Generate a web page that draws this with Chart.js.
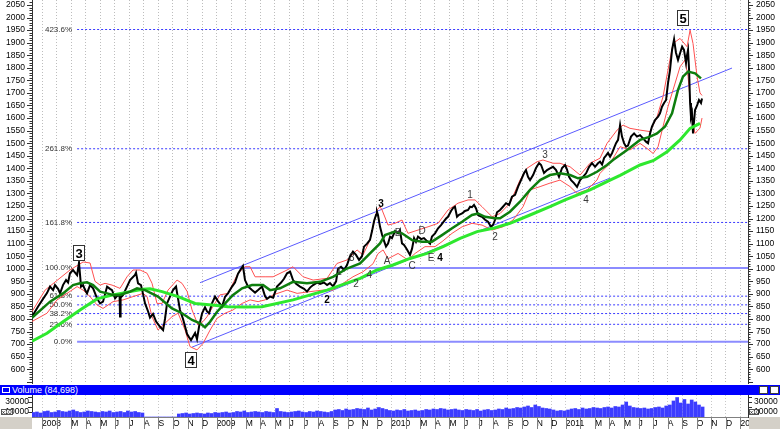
<!DOCTYPE html>
<html><head><meta charset="utf-8">
<script src="https://cdn.jsdelivr.net/npm/chart.js@4.4.1/dist/chart.umd.min.js"></script>
<style>
body{margin:0;background:#fff;}
#wrap{position:relative;width:780px;height:429px;overflow:hidden;background:#fff;font-family:"Liberation Sans",Arial,sans-serif;}
#main{position:absolute;left:0;top:0;}
#hdr{position:absolute;left:0;top:385px;width:780px;height:10px;background:#0000ff;color:#fff;font-size:9px;line-height:10px;}
#hdr .ic{position:absolute;left:2px;top:2px;width:6px;height:4px;border:1px solid #fff;}
#hdr .t{position:absolute;left:12px;top:0;white-space:nowrap;}
#hdr .b{position:absolute;top:1px;width:7px;height:6px;background:#fff;border:1px solid #404040;}
#vol{position:absolute;left:0;top:395px;}
</style></head><body>
<div id="wrap">
<canvas id="main" width="780" height="384"></canvas>
<div id="hdr"><span class="ic"></span><span class="t">Volume (84,698)</span><span class="b" style="left:759px"></span><span class="b" style="left:770px"></span></div>
<canvas id="vol" width="780" height="34"></canvas>
</div>
<script>
// ---------------- DATA (x = months since Jan 2008, y = price) ----------------
const priceData = [[-0.69,809],[-0.27,850],[0.07,880],[0.34,903],[0.55,929],[0.76,915],[0.89,935],[1.10,920],[1.24,902],[1.44,935],
[1.65,955],[1.79,945],[1.92,982],[2.13,995],[2.27,985],[2.41,975],[2.54,1024],[2.68,929],[2.82,935],[2.96,915],
[3.09,902],[3.30,935],[3.51,922],[3.78,882],[3.99,862],[4.19,869],[4.47,929],[4.67,920],[4.81,915],[5.02,882],
[5.22,896],[5.33,890],[5.36,810],[5.40,885],[5.57,896],[5.84,929],[6.05,955],[6.39,975],[6.46,984],[6.60,942],
[6.80,935],[6.94,900],[7.08,862],[7.29,830],[7.42,805],[7.63,820],[7.84,790],[8.11,769],[8.32,756],[8.45,800],
[8.59,862],[8.80,890],[9.00,915],[9.21,929],[9.35,880],[9.48,836],[9.69,800],[9.83,770],[9.97,740],[10.10,728],
[10.24,716],[10.38,730],[10.52,744],[10.65,720],[10.79,769],[11.00,823],[11.20,847],[11.34,830],[11.48,823],[11.68,862],
[11.89,889],[12.10,870],[12.37,849],[12.58,889],[12.78,902],[13.06,929],[13.26,945],[13.47,980],[13.68,1000],[13.81,1011],
[13.95,955],[14.16,929],[14.43,915],[14.64,905],[14.85,915],[15.12,929],[15.33,890],[15.46,880],[15.67,889],[15.88,885],
[16.15,929],[16.43,945],[16.63,960],[16.84,982],[17.05,988],[17.25,955],[17.46,940],[17.73,929],[18.01,920],[18.21,909],
[18.42,925],[18.63,935],[18.90,945],[19.11,940],[19.38,945],[19.59,935],[19.79,943],[20.00,930],[20.21,950],[20.34,1000],
[20.55,1008],[20.76,995],[20.96,1015],[21.17,1050],[21.37,1068],[21.58,1055],[21.79,1035],[21.99,1050],[22.13,1088],[22.34,1100],
[22.54,1115],[22.68,1150],[22.82,1190],[22.96,1215],[23.02,1227],[23.09,1214],[23.23,1167],[23.37,1135],[23.51,1110],[23.64,1088],
[23.78,1100],[23.92,1128],[24.05,1122],[24.26,1150],[24.47,1141],[24.60,1154],[24.74,1101],[24.88,1095],[25.02,1083],[25.15,1070],
[25.29,1055],[25.43,1080],[25.57,1122],[25.70,1107],[25.84,1128],[26.05,1118],[26.25,1122],[26.46,1110],[26.67,1100],[26.80,1128],
[27.01,1141],[27.22,1161],[27.42,1174],[27.63,1190],[27.77,1200],[27.90,1207],[28.11,1230],[28.25,1242],[28.38,1247],[28.52,1207],
[28.66,1215],[28.87,1220],[29.07,1230],[29.28,1234],[29.42,1247],[29.55,1245],[29.69,1254],[29.83,1240],[29.97,1214],[30.10,1210],
[30.24,1207],[30.45,1195],[30.65,1187],[30.86,1167],[31.00,1175],[31.13,1194],[31.27,1225],[31.48,1234],[31.68,1247],[31.89,1261],
[32.10,1254],[32.30,1287],[32.51,1294],[32.72,1327],[32.92,1353],[33.13,1381],[33.26,1393],[33.40,1366],[33.54,1353],[33.75,1373],
[33.95,1401],[34.16,1421],[34.30,1413],[34.50,1381],[34.71,1393],[34.91,1400],[35.12,1406],[35.33,1393],[35.53,1366],[35.74,1401],
[35.95,1413],[36.08,1395],[36.22,1366],[36.36,1353],[36.56,1341],[36.77,1326],[36.98,1353],[37.18,1366],[37.39,1380],[37.59,1405],
[37.80,1421],[38.01,1406],[38.21,1420],[38.35,1426],[38.49,1415],[38.63,1441],[38.76,1450],[38.90,1461],[39.04,1446],[39.18,1461],
[39.31,1480],[39.45,1500],[39.59,1513],[39.73,1572],[39.86,1526],[40.00,1500],[40.14,1486],[40.27,1490],[40.48,1526],[40.69,1539],
[40.89,1526],[41.10,1532],[41.31,1519],[41.51,1506],[41.65,1500],[41.79,1539],[41.92,1566],[42.13,1592],[42.34,1605],[42.47,1619],
[42.61,1645],[42.75,1660],[42.89,1672],[43.02,1738],[43.16,1791],[43.30,1871],[43.44,1913],[43.57,1860],[43.71,1831],[43.85,1858],
[43.99,1884],[44.12,1871],[44.26,1819],[44.33,1850],[44.40,1871],[44.47,1791],[44.54,1660],[44.60,1604],[44.67,1620],[44.74,1539],
[44.88,1632],[45.02,1650],[45.15,1672],[45.29,1660],[45.36,1678]];

const maShort = [[-0.69,805],[0.55,869],[1.44,902],[2.13,935],[2.61,942],[3.09,946],[3.51,935],[3.99,909],[4.47,902],[4.88,896],
[5.36,896],[6.05,909],[6.53,922],[7.08,915],[7.97,889],[8.93,842],[9.62,823],[10.31,796],[10.86,783],[11.20,767],
[11.55,789],[12.03,829],[12.58,862],[13.13,896],[13.75,922],[14.43,935],[15.19,935],[15.67,915],[16.36,922],[17.25,948],
[18.21,942],[19.11,948],[20.00,968],[20.96,1001],[21.86,1021],[22.54,1061],[23.23,1101],[23.57,1134],[24.26,1148],[24.74,1141],
[25.43,1114],[26.12,1108],[26.80,1108],[27.49,1134],[28.18,1161],[28.87,1187],[29.55,1214],[29.97,1220],[30.45,1207],[31.13,1201],
[31.48,1201],[32.16,1227],[32.85,1267],[33.54,1314],[34.23,1353],[34.91,1373],[35.60,1380],[36.29,1373],[36.84,1360],[37.46,1366],
[38.14,1386],[38.83,1413],[39.24,1433],[40.21,1473],[41.10,1513],[41.79,1526],[42.27,1539],[42.82,1566],[43.30,1619],[43.71,1712],
[44.05,1765],[44.40,1785],[44.88,1778],[45.29,1758]];

const maLong = [[-0.69,712],[0.34,743],[1.44,789],[2.61,836],[3.78,880],[4.88,896],[6.05,909],[6.94,918],[7.42,920],[8.25,909],
[9.35,889],[10.52,862],[11.68,856],[12.78,849],[13.95,848],[15.12,849],[17.25,876],[19.59,915],[21.86,962],[23.02,995],
[24.12,1015],[25.29,1041],[26.46,1061],[27.56,1088],[28.73,1121],[29.90,1148],[31.00,1161],[32.16,1181],[33.54,1214],[34.91,1247],
[35.95,1274],[37.66,1314],[39.04,1353],[39.73,1372],[41.10,1413],[42.00,1430],[42.96,1466],[43.85,1513],[44.54,1559],[45.22,1579]];

const bandUpper = [[-0.69,829],[0.21,915],[0.89,947],[1.92,995],[2.82,1027],[3.30,1023],[3.64,950],[3.99,935],[4.33,942],[4.81,935],
[5.36,922],[5.84,968],[6.25,995],[6.74,995],[7.22,982],[7.56,942],[7.90,862],[8.25,862],[8.66,915],[9.28,955],
[9.62,942],[9.97,910],[10.31,836],[10.72,776],[11.07,790],[11.34,809],[11.75,850],[12.23,896],[12.78,902],[13.47,982],
[13.95,1008],[14.30,1008],[14.64,968],[15.33,968],[15.88,968],[16.84,995],[17.25,1008],[17.94,968],[18.63,955],[19.59,962],
[20.27,1021],[20.96,1035],[21.65,1075],[22.06,1055],[22.54,1114],[23.02,1234],[23.23,1247],[23.37,1234],[23.78,1174],[24.26,1181],
[24.74,1194],[25.15,1141],[25.84,1154],[26.53,1167],[27.22,1181],[27.90,1234],[28.59,1261],[29.28,1274],[29.76,1274],[30.24,1247],
[30.93,1207],[31.48,1220],[32.16,1261],[32.85,1353],[33.33,1400],[34.02,1426],[34.43,1433],[35.12,1420],[35.60,1420],[36.29,1406],
[36.98,1373],[37.66,1420],[38.35,1440],[38.83,1499],[39.52,1552],[39.93,1572],[40.41,1559],[41.10,1552],[41.79,1546],[42.27,1605],
[42.68,1685],[43.02,1791],[43.37,1897],[43.85,1917],[44.33,1884],[44.54,1950],[44.74,1897],[45.02,1765],[45.22,1700],[45.36,1690]];

const bandLower = [[-0.69,790],[0.34,823],[1.03,876],[1.72,902],[2.41,929],[2.82,915],[3.30,889],[3.78,856],[4.19,842],[4.88,869],
[5.57,876],[6.25,889],[6.94,902],[7.22,889],[7.56,809],[7.97,756],[8.45,783],[8.93,809],[9.35,823],[9.83,756],
[10.17,690],[10.65,677],[11.07,703],[11.55,756],[12.03,803],[12.58,823],[13.13,836],[13.75,862],[14.30,876],[14.85,869],
[15.33,876],[15.88,896],[16.84,915],[17.53,902],[18.42,909],[19.31,915],[20.00,915],[20.69,942],[21.37,968],[22.06,988],
[22.75,1020],[23.09,1060],[23.44,1075],[23.78,1040],[24.47,1061],[25.15,1035],[25.64,1061],[26.32,1088],[27.01,1088],[27.49,1108],
[28.18,1141],[28.87,1167],[29.55,1181],[30.24,1174],[30.93,1154],[31.68,1167],[32.37,1194],[33.06,1247],[33.54,1314],[34.23,1327],
[34.91,1341],[35.60,1353],[36.29,1327],[36.77,1300],[37.46,1314],[38.14,1353],[38.35,1380],[39.04,1420],[39.73,1486],[40.41,1473],
[41.10,1499],[41.58,1479],[42.00,1459],[42.34,1486],[42.68,1566],[43.02,1645],[43.37,1712],[43.85,1804],[44.19,1831],[44.40,1765],
[44.67,1592],[44.88,1539],[45.22,1560],[45.36,1600]];

const fibPercents = [0, 23.6, 38.2, 50, 61.8, 100, 161.8, 261.8, 423.6];
const fibLow = 709.6, fibHigh = 1003, fibStart = 2.41;
const channelUpper = [[10.86, 944.5], [47.42, 1799]];
const channelLower = [[10.31, 688], [39.04, 1361]];

const priceTicks = [600,650,700,750,800,850,900,950,1000,1050,1100,1150,1200,1250,1300,1350,1400,1450,1500,1550,1600,1650,1700,1750,1800,1850,1900,1950,2000,2050];
const monthLetters = ['J','F','M','A','M','J','J','A','S','O','N','D'];
const firstYear = 2008;

const waveLabels = [[23.30,1258,'3',true],[19.59,876,'2',true],[23.71,1031,'A',false],[24.47,1142,'B',false],[25.43,1011,'C',false],
[26.12,1150,'D',false],[26.74,1043,'E',false],[27.35,1043,'4',true],[29.42,1293,'1',false],[31.13,1126,'2',false],
[34.57,1453,'3',false],[37.39,1274,'4',false],[20.41,988,'1',false],[21.28,1042,'3',false],[22.49,975,'4',false],[21.58,939,'2',false]];
const boxedLabels = [[2.54,1061,'3'],[10.21,637,'4'],[44.05,2000,'5']];

// weekly volume, in thousands, from volStart every volStep months
const volStart = -0.6, volStep = 0.25;
const volumeK = [9,10,8,11,12,9,10,13,11,10,12,14,11,9,10,12,11,10,9,11,10,12,9,10,11,9,12,10,11,9,8,
0,0,0,0,0,0,0,0,0,
6,7,8,6,7,8,7,6,8,7,9,
8,9,10,8,9,11,10,12,9,10,11,10,9,11,10,9,17,11,10,9,10,11,12,10,9,11,10,12,11,10,9,11,
14,15,13,16,14,15,17,16,15,18,14,16,19,17,15,13,
12,14,13,15,12,13,14,12,13,15,14,16,15,17,16,14,15,16,14,13,15,14,13,15,
12,14,15,13,14,16,15,18,16,17,19,18,20,22,19,24,21,18,17,16,14,12,13,12,
14,16,17,15,18,16,17,19,18,17,19,20,18,21,20,24,
30,22,19,18,
17,18,16,17,19,20,18,22,24,
32,39,28,35,
26,34,30,24,
20];
const volTicks = [10000, 30000];

// ---------------- CHART ----------------
Chart.defaults.font.family = '"Liberation Sans", Arial, sans-serif';
Chart.defaults.font.size = 8.5;
Chart.defaults.color = '#000';
const FONT = '"Liberation Sans", Arial, sans-serif';
const X_MIN = -0.69, X_MAX = 48.52;
const toPts = a => a.map(([x, y]) => ({x, y}));
const monthTicks = s => { s.ticks = []; for (let v = Math.ceil(s.min); v <= Math.floor(s.max); v++) s.ticks.push({value: v}); };
const fibLevel = p => fibLow + (fibHigh - fibLow) * p / 100;
const noPadV = s => { s.width = 32; s.paddingTop = 0; s.paddingBottom = 0; };
const plain = v => String(v);

const line = (data, color, width, order, dash) => ({type:'line', data: toPts(data), borderColor: color, borderWidth: width,
  borderDash: dash || [], pointRadius: 0, tension: 0, fill: false, order, yAxisID: 'yL'});

const datasets = [
  line(maShort, '#0e7e0e', 2.5, 0),
  line(maLong, '#2ee82e', 3, 1),
  line(priceData, '#000000', 2, 2),
  line(bandUpper, '#ff5050', 1, 3),
  line(bandLower, '#ff5050', 1, 3),
  line(channelUpper, '#5a5aff', 1, 4),
  line(channelLower, '#5a5aff', 1, 4),
  ...fibPercents.map(p => {
    const solid = (p === 0 || p === 100);
    return line([[fibStart, fibLevel(p)], [X_MAX, fibLevel(p)]], solid ? '#8c8cff' : '#3a3aff', solid ? 2 : 1, 5, solid ? [] : [2, 2]);
  })
];

const mainDecor = {
  id: 'mainDecor',
  beforeDatasetsDraw(chart) {
    const {ctx, scales: {x, yL}} = chart;
    ctx.save();
    ctx.font = '8px ' + FONT; ctx.fillStyle = '#333'; ctx.textAlign = 'right'; ctx.textBaseline = 'middle';
    fibPercents.forEach(p => ctx.fillText(p.toFixed(1) + '%', x.getPixelForValue(fibStart) - 5, yL.getPixelForValue(fibLevel(p))));
    ctx.restore();
  },
  afterDatasetsDraw(chart) {
    const {ctx, scales: {x, yL}} = chart;
    ctx.save();
    ctx.textAlign = 'center'; ctx.textBaseline = 'middle';
    waveLabels.forEach(([m, v, t, b]) => {
      ctx.font = (b ? 'bold 10px ' : '10px ') + FONT;
      ctx.fillStyle = b ? '#000' : '#3a3a3a';
      ctx.fillText(t, x.getPixelForValue(m), yL.getPixelForValue(v));
    });
    boxedLabels.forEach(([m, v, t]) => {
      const px = Math.round(x.getPixelForValue(m)), py = Math.round(yL.getPixelForValue(v));
      ctx.fillStyle = '#fff'; ctx.fillRect(px - 6, py - 8, 12, 16);
      ctx.strokeStyle = '#333'; ctx.lineWidth = 1; ctx.strokeRect(px - 5.5, py - 7.5, 11, 15);
      ctx.fillStyle = '#000'; ctx.font = 'bold 13px ' + FONT; ctx.fillText(t, px, py + 1);
    });
    ctx.restore();
  },
  afterDraw(chart) {
    const {ctx, chartArea: ca, scales: {yL}} = chart;
    ctx.save(); ctx.strokeStyle = '#333'; ctx.lineWidth = 1; ctx.beginPath();
    for (let v = 550; v <= 2060; v += 10) {
      const y = Math.round(yL.getPixelForValue(v)) + 0.5;
      const len = v % 50 === 0 ? 5 : 2.5;
      ctx.moveTo(ca.left - len, y); ctx.lineTo(ca.left, y);
      ctx.moveTo(ca.right, y); ctx.lineTo(ca.right + len, y);
    }
    ctx.stroke(); ctx.restore();
  }
};

const yAxis = (pos, pad) => ({
  type: 'linear', position: pos, min: 545.2, max: 2069.9,
  afterBuildTicks: s => { s.ticks = priceTicks.map(v => ({value: v})); },
  afterFit: noPadV,
  grid: {display: false, drawTicks: false},
  border: {display: true, color: '#333', width: 1},
  ticks: {autoSkip: false, padding: pad, color: '#000', font: {size: 8.5}, callback: plain}
});

new Chart(document.getElementById('main'), {
  type: 'line',
  data: {datasets},
  options: {
    responsive: false, animation: false, events: [],
    layout: {padding: 0},
    plugins: {legend: {display: false}, tooltip: {enabled: false}},
    scales: {
      x: {type: 'linear', min: X_MIN, max: X_MAX, afterBuildTicks: monthTicks,
        afterFit: s => { s.height = 1; s.paddingLeft = 0; s.paddingRight = 0; },
        grid: {display: true, color: '#bdbdbd', lineWidth: 1, drawTicks: false},
        border: {display: false, dash: [1, 2]},
        ticks: {display: false}},
      yL: yAxis('left', 7),
      yR: yAxis('right', 8)
    }
  },
  plugins: [mainDecor]
});

// ---------------- VOLUME ----------------
const volPts = volumeK.map((v, i) => ({x: volStart + i * volStep, y: v * 1000}));
const volDecor = {
  id: 'volDecor',
  afterDraw(chart) {
    const {ctx, chartArea: ca, scales: {x, vL}} = chart;
    const H = chart.height;
    ctx.save();
    ctx.fillStyle = '#d4d0c8';
    ctx.fillRect(0, ca.bottom, ca.left, H - ca.bottom);
    ctx.fillRect(ca.right + 1, ca.bottom, chart.width - ca.right, H - ca.bottom);
    ctx.strokeStyle = '#808080'; ctx.lineWidth = 1; ctx.beginPath();
    ctx.moveTo(ca.left, ca.bottom + 0.5); ctx.lineTo(ca.right, ca.bottom + 0.5);
    x.ticks.forEach(t => { const px = Math.round(x.getPixelForValue(t.value)) + 0.5; ctx.moveTo(px, ca.bottom); ctx.lineTo(px, H); });
    ctx.stroke();
    ctx.strokeStyle = '#333'; ctx.beginPath();
    [10000, 20000, 30000, 40000].forEach(v => {
      const y = Math.round(vL.getPixelForValue(v)) + 0.5;
      ctx.moveTo(ca.left - 4, y); ctx.lineTo(ca.left, y); ctx.moveTo(ca.right, y); ctx.lineTo(ca.right + 4, y);
    });
    ctx.stroke();
    const yb = Math.round(vL.getPixelForValue(10000));
    [[1, 12], [ca.right + 1, 10]].forEach(([bx, bw]) => {
      ctx.fillStyle = '#fff'; ctx.fillRect(bx, yb - 3, bw, 6);
      ctx.strokeStyle = '#555'; ctx.strokeRect(bx + 0.5, yb - 2.5, bw - 1, 5);
      ctx.fillStyle = '#000'; ctx.font = '6px ' + FONT; ctx.textAlign = 'left'; ctx.textBaseline = 'middle';
      ctx.fillText('x10', bx + 1, yb + 0.5);
    });
    ctx.restore();
  }
};
const vAxis = (pos, pad) => ({
  type: 'linear', position: pos, min: 0, max: 44000,
  afterBuildTicks: s => { s.ticks = volTicks.map(v => ({value: v})); },
  afterFit: noPadV,
  grid: {display: false, drawTicks: false},
  border: {display: true, color: '#333', width: 1},
  ticks: {autoSkip: false, padding: pad, color: '#000', font: {size: 8.5}, callback: plain}
});
new Chart(document.getElementById('vol'), {
  type: 'bar',
  data: {datasets: [{data: volPts, backgroundColor: '#3c3cff', borderWidth: 0, barThickness: 3, yAxisID: 'vL'}]},
  options: {
    responsive: false, animation: false, events: [],
    layout: {padding: 0},
    plugins: {legend: {display: false}, tooltip: {enabled: false}},
    scales: {
      x: {type: 'linear', min: X_MIN, max: X_MAX, offset: false, afterBuildTicks: monthTicks,
        afterFit: s => { s.height = 12; s.paddingLeft = 0; s.paddingRight = 0; },
        grid: {display: true, offset: false, color: '#c8c8c8', lineWidth: 1, drawTicks: false},
        border: {display: false, dash: [1, 2]},
        ticks: {autoSkip: false, maxRotation: 0, minRotation: 0, align: 'start', padding: 2, color: '#000', font: {size: 8.5},
          callback: v => { const mi = ((v % 12) + 12) % 12; return mi === 0 ? String(firstYear + Math.floor(v / 12)) : (mi === 1 ? '' : monthLetters[mi]); }}},
      vL: vAxis('left', 3),
      vR: vAxis('right', 6)
    }
  },
  plugins: [volDecor]
});
</script>
</body></html>
